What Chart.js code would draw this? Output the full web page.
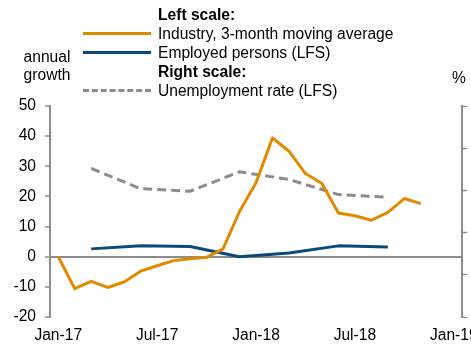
<!DOCTYPE html>
<html>
<head>
<meta charset="utf-8">
<script src="https://cdn.jsdelivr.net/npm/chart.js@4"></script>
<style>
    html, body { margin: 0; padding: 0; background: #fff; }
    #wrap { position: relative; width: 471px; height: 347px; font-family: "Liberation Sans", Arial, sans-serif; font-size: 15.6px; color: #000; }
    #chart { position: absolute; left: 0; top: 0; }
    .txt { position: absolute; white-space: nowrap; line-height: 19px; }
    .bold { font-weight: bold; }
    .swatch { position: absolute; left: 83px; width: 68px; height: 0; }
</style>
</head>
<body>
<div id="wrap">
    <canvas id="chart" width="471" height="347"></canvas>
    <div class="txt" style="left:21px; top:48px; text-align:center; width:52px; line-height:18px;">annual<br>growth</div>
    <div class="txt" style="left:452px; top:68px;">%</div>

    <div class="txt bold" style="left:158px; top:5px;">Left scale:</div>
    <div class="swatch" style="top:32px; border-top:3px solid #E08A00;"></div>
    <div class="txt" style="left:158px; top:24px;">Industry, 3-month moving average</div>
    <div class="swatch" style="top:51px; border-top:3px solid #0B4A78;"></div>
    <div class="txt" style="left:158px; top:43px;">Employed persons (LFS)</div>
    <div class="txt bold" style="left:158px; top:62px;">Right scale:</div>
    <div class="swatch" style="top:89px; border-top:3px dashed #8C8C8C;"></div>
    <div class="txt" style="left:158px; top:81px;">Unemployment rate (LFS)</div>
</div>

<script>
// monthly categories, Jan-17 .. Jan-19
const months = [
    "Jan-17", "Feb-17", "Mar-17", "Apr-17", "May-17", "Jun-17",
    "Jul-17", "Aug-17", "Sep-17", "Oct-17", "Nov-17", "Dec-17",
    "Jan-18", "Feb-18", "Mar-18", "Apr-18", "May-18", "Jun-18",
    "Jul-18", "Aug-18", "Sep-18", "Oct-18", "Nov-18", "Dec-18",
    "Jan-19"
];

// left scale, annual growth
const industry = [
    0, -10.6, -8.2, -10.2, -8.4, -4.8,
    -3.0, -1.3, -0.7, -0.2, 2.6, 15.0,
    24.5, 39.4, 35.0, 27.6, 24.3, 14.5,
    13.6, 12.1, 14.7, 19.3, 17.6, null,
    null
];

// quarterly LFS figures (Mar, Jun, Sep, Dec)
const employed = [
    null, null, 2.6, null, null, 3.6,
    null, null, 3.4, null, null, 0.0,
    null, null, 1.2, null, null, 3.6,
    null, null, 3.2, null, null, null,
    null
];

// right scale, %
const unemployment = [
    null, null, 17.6, null, null, 15.2,
    null, null, 14.9, null, null, 17.2,
    null, null, 16.3, null, null, 14.5,
    null, null, 14.2, null, null, null,
    null
];

const GREY = "#8C8C8C";
const FONT = { family: "'Liberation Sans', Arial, sans-serif", size: 15.6 };

new Chart(document.getElementById("chart").getContext("2d"), {
    type: "line",
    data: {
        labels: months,
        datasets: [
            {
                label: "Industry, 3-month moving average",
                data: industry,
                borderColor: "#E08A00",
                borderWidth: 3,
                yAxisID: "y"
            },
            {
                label: "Employed persons (LFS)",
                data: employed,
                borderColor: "#0B4A78",
                borderWidth: 3,
                spanGaps: true,
                yAxisID: "y"
            },
            {
                label: "Unemployment rate (LFS)",
                data: unemployment,
                borderColor: GREY,
                borderWidth: 3,
                borderDash: [9, 5],
                spanGaps: true,
                yAxisID: "y2"
            }
        ]
    },
    options: {
        responsive: false,
        animation: false,
        layout: { padding: { top: 106, left: 0, right: 0, bottom: 0 } },
        elements: {
            point: { radius: 0 },
            line: { tension: 0, borderJoinStyle: "round", borderCapStyle: "butt" }
        },
        plugins: {
            legend: { display: false },
            tooltip: { enabled: false }
        },
        scales: {
            x: {
                offset: true,
                grid: { display: false, drawTicks: false },
                border: { display: false },
                ticks: {
                    autoSkip: false,
                    maxRotation: 0,
                    padding: 9,
                    color: "#000",
                    font: FONT,
                    callback: (v, i) => (i % 6 === 0 ? months[i] : "")
                },
                afterFit: s => { s.height = 30; s.paddingLeft = 0; s.paddingRight = 0; }
            },
            y: {
                position: "left",
                min: -20,
                max: 50,
                ticks: { stepSize: 10, padding: 9, color: "#000", font: FONT },
                grid: {
                    color: c => (c.tick && c.tick.value === 0 ? GREY : "transparent"),
                    lineWidth: 2,
                    tickColor: GREY,
                    tickWidth: 1.5,
                    tickLength: 5
                },
                border: { display: true, color: GREY, width: 2 },
                afterFit: s => { s.width = 50; s.paddingTop = 0; s.paddingBottom = 0; }
            },
            y2: {
                position: "right",
                min: 0,
                max: 25,
                ticks: { stepSize: 5, display: false },
                grid: {
                    drawOnChartArea: false,
                    tickColor: GREY,
                    tickWidth: 1.5,
                    tickLength: 5
                },
                border: { display: true, color: GREY, width: 2 },
                afterFit: s => { s.width = 9; s.paddingTop = 0; s.paddingBottom = 0; }
            }
        }
    }
});
</script>
</body>
</html>
